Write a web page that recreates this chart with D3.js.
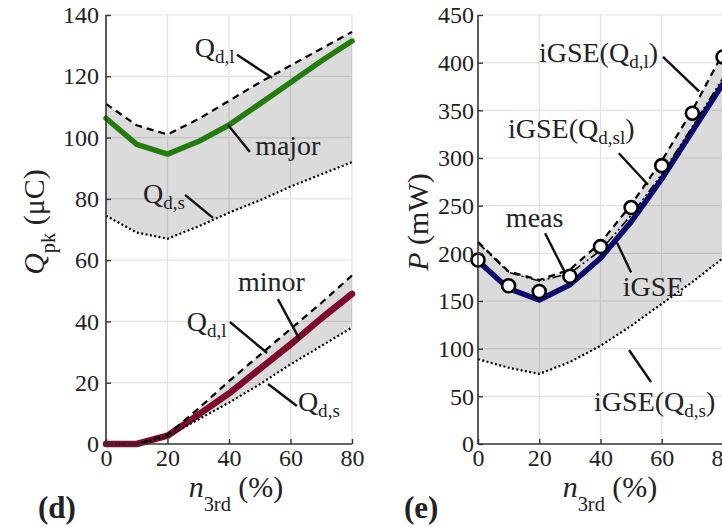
<!DOCTYPE html>
<html>
<head>
<meta charset="utf-8" />
<title>Qpk and P vs n3rd</title>
<script src="https://cdn.jsdelivr.net/npm/d3@7"></script>
<style>
  body { margin: 0; background: #fff; }
  text { font-family: "Liberation Serif", "Times New Roman", serif; fill: #222; }
</style>
</head>
<body>
<script>
// n_3rd (%) sample points
var nPct = [0, 10, 20, 30, 40, 50, 60, 70, 80];

// (d) peak charge, major loop
var majQdl = [111, 104, 101, 106, 112, 118, 123.5, 129, 134.5];
var majQ   = [106.3, 97.8, 94.6, 98.7, 104.1, 111, 118, 125, 131.5];
var majQds = [74.5, 69, 67, 71, 75.5, 79.5, 84, 88, 92];
// (d) peak charge, minor loop
var minQdl = [0, 0, 3, 11.5, 20.5, 29, 37.5, 46, 55];
var minQ   = [0, 0, 2.7, 9.5, 16.5, 24.5, 32.5, 41, 49];
var minQds = [0, 0, 2.5, 8, 13.5, 19.5, 26, 32, 38];

// (e) loss
var pQdl  = [212, 181, 172, 183, 211, 251, 297, 350, 410];
var pQdsl = [211, 180, 171, 179, 203, 240, 283, 333, 384];
var pIGSE = [192, 163, 151, 167, 195, 233, 278, 328, 378];
var pQds  = [89, 80, 73.5, 86, 103, 124, 147, 170, 195];
var pMeas = [193, 166, 160, 176, 207, 248, 292, 347, 406];

var nTicks = [0, 20, 40, 60, 80];
var qTicks = [0, 20, 40, 60, 80, 100, 120, 140];
var pTicks = [0, 50, 100, 150, 200, 250, 300, 350, 400, 450];

var svg = d3.select("body").append("svg")
  .attr("width", 722)
  .attr("height", 527);

// helper: text with a subscript piece, parts = [[str, sub?, italic?], ...]
function rich(g, x, y, parts, size, anchor, drop) {
  drop = drop || 0.22;
  var t = g.append("text")
    .attr("x", x).attr("y", y)
    .attr("font-size", size)
    .attr("text-anchor", anchor || "start");
  var low = false;
  parts.forEach(function(p) {
    var s = t.append("tspan").text(p[0]);
    if (p[1] && !low) { s.attr("dy", size * drop).attr("font-size", size * 0.68); low = true; }
    else if (!p[1] && low) { s.attr("dy", -size * drop); low = false; }
    if (p[2]) s.attr("font-style", "italic");
  });
  return t;
}

function panel(opt) {
  var x = d3.scaleLinear().domain([0, 80]).range(opt.xr);
  var y = d3.scaleLinear().domain(opt.yd).range([444, 15]);
  var g = svg.append("g");

  // grid
  g.append("g").selectAll("line").data(nTicks.slice(1)).enter().append("line")
    .attr("x1", function(d){ return x(d); }).attr("x2", function(d){ return x(d); })
    .attr("y1", y.range()[1]).attr("y2", y.range()[0])
    .attr("stroke", "#e2e2e2").attr("stroke-width", 1.2);
  g.append("g").selectAll("line").data(opt.ticks.slice(1)).enter().append("line")
    .attr("x1", x(0)).attr("x2", x(80))
    .attr("y1", function(d){ return y(d); }).attr("y2", function(d){ return y(d); })
    .attr("stroke", "#e2e2e2").attr("stroke-width", 1.2);

  var line = d3.line().x(function(d, i){ return x(nPct[i]); }).y(function(d){ return y(d); });
  var area = d3.area().x(function(d, i){ return x(nPct[i]); })
    .y0(function(d){ return y(d[0]); }).y1(function(d){ return y(d[1]); });

  opt.bands.forEach(function(b) {
    g.append("path").datum(b[0].map(function(v, i){ return [b[1][i], v]; }))
      .attr("d", area).attr("fill", "#000").attr("fill-opacity", 0.14);
  });

  opt.series.forEach(function(s) {
    g.append("path").datum(s.v).attr("d", line)
      .attr("fill", "none").attr("stroke", s.c).attr("stroke-width", s.w)
      .attr("stroke-dasharray", s.dash || null)
      .attr("stroke-linejoin", "round").attr("stroke-linecap", s.cap || "butt");
  });

  if (opt.points) {
    g.append("g").selectAll("circle").data(opt.points).enter().append("circle")
      .attr("cx", function(d, i){ return x(nPct[i]); })
      .attr("cy", function(d){ return y(d); })
      .attr("r", 6.5).attr("fill", "#fff").attr("stroke", "#000").attr("stroke-width", 2.6);
  }

  // axes
  var ax = d3.axisBottom(x).tickValues(nTicks).tickSize(-5).tickPadding(5).tickFormat(d3.format("d"));
  var ay = d3.axisLeft(y).tickValues(opt.ticks).tickSize(-5).tickPadding(opt.ypad).tickFormat(d3.format("d"));
  var gx = g.append("g").attr("transform", "translate(0,444)").call(ax);
  var gy = g.append("g").attr("transform", "translate(" + x(0) + ",0)").call(ay);
  [gx, gy].forEach(function(a) {
    a.select(".domain").attr("stroke", "#333").attr("stroke-width", 1.6);
    a.selectAll(".tick line").attr("stroke", "#333").attr("stroke-width", 1.4);
    a.selectAll(".tick text").attr("font-size", 24).attr("fill", "#222");
  });
  gx.select(".domain").attr("d", "M" + x(0) + ",0H" + x(80));
  gy.select(".domain").attr("d", "M0," + y.range()[0] + "V" + y.range()[1]);

  // annotations (positions in data units)
  opt.notes.forEach(function(a) {
    g.append("line")
      .attr("x1", x(a.l[0])).attr("y1", y(a.l[1]))
      .attr("x2", x(a.l[2])).attr("y2", y(a.l[3]))
      .attr("stroke", "#111").attr("stroke-width", 2.4);
    rich(g, x(a.t[0]), y(a.t[1]), a.parts, 28);
  });

  // axis titles
  rich(g, opt.xlab, 497, [["n", false, true], ["3rd", true], [" (%)", false]], 30, "middle", 0.45);
  var yl = rich(g, 0, 0, opt.ylab, 30, "middle", 0.35);
  yl.attr("transform", "translate(" + opt.ylx + ",222) rotate(-90)");
  g.append("text").attr("x", opt.tag[0]).attr("y", 518)
    .attr("font-size", 31).attr("font-weight", "bold").text(opt.tag[1]);
}

var dashed = "7 5", dotted = "2 2.4";

panel({
  xr: [106, 352], yd: [0, 140], ticks: qTicks, ypad: 7,
  bands: [[majQdl, majQds], [minQdl, minQds]],
  series: [
    { v: majQ, c: "#237c0e", w: 5.5, cap: "round" },
    { v: minQ, c: "#7e0a2c", w: 6.5, cap: "round" },
    { v: majQdl, c: "#000", w: 2.2, dash: dashed },
    { v: majQds, c: "#000", w: 2.2, dash: dotted },
    { v: minQdl, c: "#000", w: 2.2, dash: dashed },
    { v: minQds, c: "#000", w: 2.2, dash: dotted }
  ],
  notes: [
    { t: [28.9, 126.3], l: [42.6, 127, 54, 119.5], parts: [["Q"], ["d,l", true]] },
    { t: [48.5, 94.3], l: [39.7, 104.1, 46.8, 95.3], parts: [["major"]] },
    { t: [12, 78.7], l: [25.7, 81.3, 34.8, 73.8], parts: [["Q"], ["d,s", true]] },
    { t: [42.9, 49.9], l: [55.9, 47.3, 63.1, 33.9], parts: [["minor"]] },
    { t: [26.3, 36.9], l: [40.3, 39.8, 52.4, 29.7], parts: [["Q"], ["d,l", true]] },
    { t: [62.4, 10.8], l: [52.7, 19.6, 62.1, 12.4], parts: [["Q"], ["d,s", true]] }
  ],
  xlab: 236,
  ylab: [["Q", false, true], ["pk", true], [" (μC)", false]], ylx: 44,
  tag: [38, "(d)"]
});

panel({
  xr: [478, 723], yd: [0, 450], ticks: pTicks, ypad: 4,
  bands: [[pQdl, pQds]],
  series: [
    { v: pIGSE, c: "#0c0c6c", w: 5.5, cap: "round" },
    { v: pQdsl, c: "#000", w: 1.6, dash: "9 3 2 3 2 3" },
    { v: pQdl, c: "#000", w: 2.2, dash: dashed },
    { v: pQds, c: "#000", w: 2.2, dash: dotted }
  ],
  points: pMeas,
  notes: [
    { t: [19.9, 400.7], l: [60.4, 406, 72.2, 370], parts: [["iGSE(Q"], ["d,l", true], [")"]] },
    { t: [9.8, 321], l: [46, 305, 55.5, 272], parts: [["iGSE(Q"], ["d,sl", true], [")"]] },
    { t: [9.1, 227.6], l: [21.9, 221, 28.4, 180], parts: [["meas"]] },
    { t: [47.3, 155], l: [45.4, 211, 50, 180], parts: [["iGSE"]] },
    { t: [37.9, 34.6], l: [49.3, 98.6, 56.5, 65], parts: [["iGSE(Q"], ["d,s", true], [")"]] }
  ],
  xlab: 610,
  ylab: [["P", false, true], [" (mW)", false]], ylx: 428,
  tag: [404, "(e)"]
});
</script>
</body>
</html>
